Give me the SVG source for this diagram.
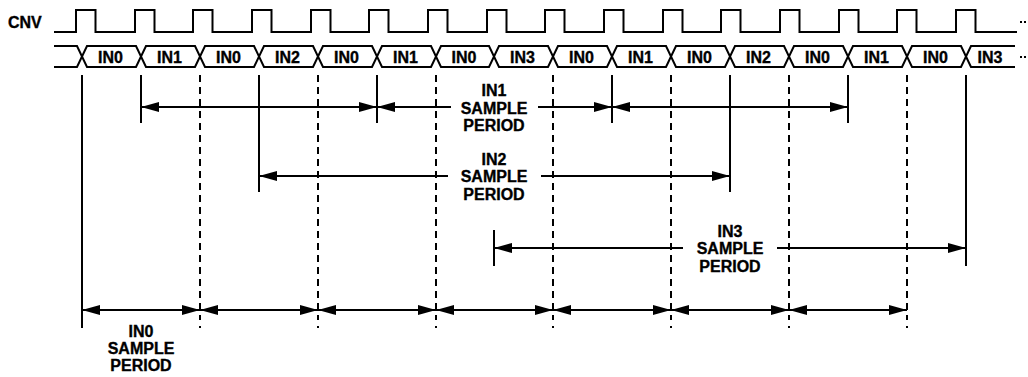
<svg xmlns="http://www.w3.org/2000/svg" width="1028" height="377" viewBox="0 0 1028 377">
<style>
.sig{fill:none;stroke:#000;stroke-width:2;stroke-linejoin:miter}
.ln{stroke:#000;stroke-width:2;fill:none}
.dash{stroke:#000;stroke-width:2;stroke-dasharray:7 5;fill:none}
.dots{stroke:#000;stroke-width:2;stroke-dasharray:2 2;fill:none}
.arr{stroke:#000;stroke-width:2;fill:none}
.as{marker-start:url(#ah)}
.ae{marker-end:url(#ah)}
text{font-family:"Liberation Sans",Arial,sans-serif;font-weight:bold;font-size:16px;fill:#000;stroke:#000;stroke-width:0.35}
.c{text-anchor:middle}
</style>
<defs>
<marker id="ah" markerUnits="userSpaceOnUse" markerWidth="19" markerHeight="11" refX="18" refY="5" orient="auto-start-reverse" overflow="visible">
<path d="M0,0 L18,5 L0,10 Z" fill="#000"/>
</marker>
</defs>

<g id="cnv">
<text x="8" y="27.5">CNV</text>
<path class="sig" d="M54,32 H76 V10 H95.5 V32 H135 V10 H154.5 V32 H193 V10 H212.5 V32 H252 V10 H271.5 V32 H311 V10 H330.5 V32 H369 V10 H388.5 V32 H428 V10 H447.5 V32 H487 V10 H506.5 V32 H545 V10 H564.5 V32 H604 V10 H623.5 V32 H663 V10 H682.5 V32 H721 V10 H740.5 V32 H780 V10 H799.5 V32 H839 V10 H858.5 V32 H897 V10 H916.5 V32 H956 V10 H975.5 V32 H1017"/>
<line class="dots" x1="1020" y1="22" x2="1028" y2="22"/>
</g>

<g id="data-bus">
<polyline class="sig" points="54,46 77,46 87,67 136,67 146,46 195,46 205,67 254,67 264,46 313,46 323,67 372,67 382,46 431,46 441,67 489,67 499,46 548,46 558,67 607,67 617,46 666,46 676,67 725,67 735,46 784,46 794,67 843,67 853,46 902,46 912,67 961,67 971,46 1015,46"/>
<polyline class="sig" points="54,67 77,67 87,46 136,46 146,67 195,67 205,46 254,46 264,67 313,67 323,46 372,46 382,67 431,67 441,46 489,46 499,67 548,67 558,46 607,46 617,67 666,67 676,46 725,46 735,67 784,67 794,46 843,46 853,67 902,67 912,46 961,46 971,67 1015,67"/>
<line class="dots" x1="1020" y1="57" x2="1028" y2="57"/>
<text class="c" x="110.5" y="63">IN0</text>
<text class="c" x="169.5" y="63">IN1</text>
<text class="c" x="228.5" y="63">IN0</text>
<text class="c" x="287.5" y="63">IN2</text>
<text class="c" x="346.5" y="63">IN0</text>
<text class="c" x="405.5" y="63">IN1</text>
<text class="c" x="464" y="63">IN0</text>
<text class="c" x="522.5" y="63">IN3</text>
<text class="c" x="581.5" y="63">IN0</text>
<text class="c" x="640.5" y="63">IN1</text>
<text class="c" x="699.5" y="63">IN0</text>
<text class="c" x="758.5" y="63">IN2</text>
<text class="c" x="817.5" y="63">IN0</text>
<text class="c" x="876.5" y="63">IN1</text>
<text class="c" x="935.5" y="63">IN0</text>
<text class="c" x="990" y="63">IN3</text>
</g>

<g id="markers">
<line class="ln" x1="82" y1="75" x2="82" y2="328"/>
<line class="ln" x1="141" y1="75" x2="141" y2="123"/>
<line class="ln" x1="259" y1="75" x2="259" y2="192"/>
<line class="ln" x1="377" y1="75" x2="377" y2="123"/>
<line class="ln" x1="612" y1="75" x2="612" y2="123"/>
<line class="ln" x1="730" y1="75" x2="730" y2="192"/>
<line class="ln" x1="848" y1="75" x2="848" y2="123"/>
<line class="ln" x1="966" y1="75" x2="966" y2="266"/>
<line class="ln" x1="494" y1="230" x2="494" y2="266"/>
<g>
<line class="dash" x1="200" y1="75" x2="200" y2="320"/>
<line class="dash" x1="318" y1="75" x2="318" y2="320"/>
<line class="dash" x1="436" y1="75" x2="436" y2="320"/>
<line class="dash" x1="553" y1="75" x2="553" y2="320"/>
<line class="dash" x1="671" y1="75" x2="671" y2="320"/>
<line class="dash" x1="789" y1="75" x2="789" y2="320"/>
<line class="dash" x1="907" y1="75" x2="907" y2="320"/>
<path class="ln" d="M200,326V328M318,326V328M436,326V328M553,326V328M671,326V328M789,326V328M907,326V328"/>
</g>
</g>

<g id="connectors">
<line class="arr as ae" x1="141" y1="107" x2="377" y2="107"/>
<line class="arr as" x1="377" y1="107" x2="451" y2="107"/>
<line class="arr ae" x1="538" y1="107" x2="612" y2="107"/>
<line class="arr as ae" x1="612" y1="107" x2="848" y2="107"/>
<line class="arr as" x1="259" y1="176" x2="448" y2="176"/>
<line class="arr ae" x1="541" y1="176" x2="730" y2="176"/>
<line class="arr as" x1="494" y1="248" x2="683" y2="248"/>
<line class="arr ae" x1="777" y1="248" x2="966" y2="248"/>
<line class="arr as ae" x1="82" y1="310" x2="200" y2="310"/>
<line class="arr as ae" x1="200" y1="310" x2="318" y2="310"/>
<line class="arr as ae" x1="318" y1="310" x2="436" y2="310"/>
<line class="arr as ae" x1="436" y1="310" x2="553" y2="310"/>
<line class="arr as ae" x1="553" y1="310" x2="671" y2="310"/>
<line class="arr as ae" x1="671" y1="310" x2="789" y2="310"/>
<line class="arr as ae" x1="789" y1="310" x2="907" y2="310"/>
</g>

<g id="label-in1">
<text class="c" x="494" y="96">IN1</text>
<text class="c" x="494" y="113.5">SAMPLE</text>
<text class="c" x="494" y="131">PERIOD</text>
</g>
<g id="label-in2">
<text class="c" x="494" y="164.5">IN2</text>
<text class="c" x="494" y="182">SAMPLE</text>
<text class="c" x="494" y="199.5">PERIOD</text>
</g>
<g id="label-in3">
<text class="c" x="730" y="236.5">IN3</text>
<text class="c" x="730" y="254">SAMPLE</text>
<text class="c" x="730" y="271.5">PERIOD</text>
</g>
<g id="label-in0">
<text class="c" x="141" y="337">IN0</text>
<text class="c" x="141" y="354">SAMPLE</text>
<text class="c" x="141" y="371">PERIOD</text>
</g>
</svg>
